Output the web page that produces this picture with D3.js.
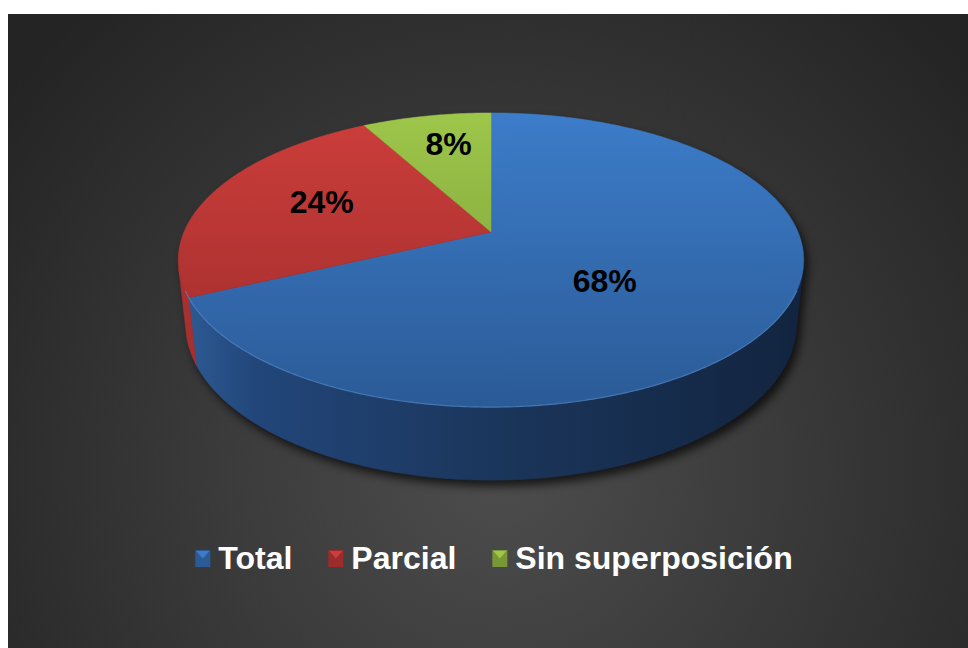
<!DOCTYPE html>
<html>
<head>
<meta charset="utf-8">
<script src="https://cdn.jsdelivr.net/npm/d3@7"></script>
<style>
  html, body { margin: 0; padding: 0; background: #fff; }
  svg { display: block; }
</style>
</head>
<body>
<div id="chart"></div>
<script>
// Data
const categories = ["Total", "Parcial", "Sin superposición"];
const values = [68, 24, 8];
const labels = ["68%", "24%", "8%"];

// Colours per slice
const topLight = ["#3c7cc9", "#cc3e3b", "#9dc64a"];
const topDark = ["#2b5b97", "#9c2b2b", "#789836"];
const wallStops = [
    ["#2e5c95", "#22467a", "#1b365c", "#12243f"],
    ["#a83030", "#9a2a2a", "#8a2424", "#7a2020"],
    ["#7f9e38", "#6e8a30", "#617a2a", "#546a24"]
];

// Label placement (fraction of radius along the mid angle, pixel nudge)
const labelR = [0.42, 0.6, 0.62];
const labelDy = [15, -5, -12];

const W = 968, H = 648;

const svg = d3.select("#chart")
    .append("svg")
    .attr("width", W)
    .attr("height", H);

const defs = svg.append("defs");

// Background radial gradient
const bg = defs.append("radialGradient")
    .attr("id", "bg")
    .attr("gradientUnits", "userSpaceOnUse")
    .attr("cx", 500).attr("cy", 470).attr("r", 620);
bg.append("stop").attr("offset", "0").attr("stop-color", "#4d4d4d");
bg.append("stop").attr("offset", "1").attr("stop-color", "#242424");

svg.append("rect")
    .attr("x", 8).attr("y", 14)
    .attr("width", W - 8).attr("height", H - 14)
    .attr("fill", "url(#bg)");

// Camera for the 3D pie
const alpha = 27.5 * Math.PI / 180;
const D = 4.657;      // camera distance in radius units
const F = 1429.8;     // focal length in px
const depthH = 0.2386; // pie thickness in radius units
const cx = 491, cy = 232;

function project(u, v, z) {
    const depth = D - v * Math.cos(alpha) - z * Math.sin(alpha);
    return [
        cx + F * u / depth,
        cy + F * (v * Math.sin(alpha) - z * Math.cos(alpha)) / depth
    ];
}

function rim(a, z, r = 1) {
    return project(r * Math.sin(a), -r * Math.cos(a), z);
}

function arcPoints(a0, a1, z) {
    const n = Math.max(2, Math.ceil(Math.abs(a1 - a0) / 0.01));
    const pts = [];
    for (let k = 0; k <= n; k++) pts.push(rim(a0 + (a1 - a0) * k / n, z));
    return pts;
}

const pie = d3.pie().sort(null).value(d => d);
const arcs = pie(values);

const line = d3.line().curve(d3.curveLinear);

// Visible part of the outer wall
const th0 = Math.acos(-1 / (D * Math.cos(alpha)));
const th1 = 2 * Math.PI - th0;

// Gradients
arcs.forEach((d, i) => {
    const g = defs.append("linearGradient")
        .attr("id", "top" + i)
        .attr("gradientUnits", "userSpaceOnUse")
        .attr("x1", 0).attr("y1", 113).attr("x2", 0).attr("y2", 407);
    g.append("stop").attr("offset", "0").attr("stop-color", topLight[i]);
    g.append("stop").attr("offset", "1").attr("stop-color", topDark[i]);

    const w = defs.append("linearGradient")
        .attr("id", "wall" + i)
        .attr("gradientUnits", "userSpaceOnUse")
        .attr("x1", 180).attr("y1", 0).attr("x2", 805).attr("y2", 0);
    [0, 0.12, 0.5, 1].forEach((o, k) => {
        w.append("stop").attr("offset", o).attr("stop-color", wallStops[i][k]);
    });
});

const blur = defs.append("filter")
    .attr("id", "shadow")
    .attr("x", "-20%").attr("y", "-20%")
    .attr("width", "140%").attr("height", "140%");
blur.append("feGaussianBlur").attr("stdDeviation", 5);

// Shadow
const shadowG = svg.append("g")
    .attr("transform", "translate(4,6)")
    .attr("filter", "url(#shadow)")
    .attr("opacity", 0.7);

function wallPath(a0, a1) {
    const top = arcPoints(a0, a1, 0);
    const bottom = arcPoints(a1, a0, -depthH);
    return line(top.concat(bottom)) + "Z";
}

function topPath(a0, a1) {
    return line([project(0, 0, 0)].concat(arcPoints(a0, a1, 0))) + "Z";
}

shadowG.append("path")
    .attr("d", wallPath(th0, th1))
    .attr("fill", "#000");
shadowG.append("path")
    .attr("d", topPath(0, 2 * Math.PI))
    .attr("fill", "#000");

// Walls
const wallG = svg.append("g");
arcs.forEach((d, i) => {
    const a0 = Math.max(d.startAngle, th0);
    const a1 = Math.min(d.endAngle, th1);
    if (a1 <= a0) return;
    wallG.append("path")
        .attr("d", wallPath(a0, a1))
        .attr("fill", "url(#wall" + i + ")")
        .attr("stroke", "url(#wall" + i + ")")
        .attr("stroke-width", 0.6);
});

// Top faces
const topG = svg.append("g");
arcs.forEach((d, i) => {
    topG.append("path")
        .attr("d", topPath(d.startAngle, d.endAngle))
        .attr("fill", "url(#top" + i + ")")
        .attr("stroke", "url(#top" + i + ")")
        .attr("stroke-width", 0.5);
});

// light edge along the front rim
topG.append("path")
    .attr("d", line(arcPoints(th0 + 0.15, th1 - 0.15, 0)))
    .attr("fill", "none")
    .attr("stroke", "#5a90d0")
    .attr("stroke-opacity", 0.6)
    .attr("stroke-width", 1.2);

// Data labels
const font = "'Liberation Sans', Arial, sans-serif";
arcs.forEach((d, i) => {
    const mid = (d.startAngle + d.endAngle) / 2;
    const p = rim(mid, 0, labelR[i]);
    svg.append("text")
        .attr("x", p[0])
        .attr("y", p[1] + labelDy[i])
        .attr("dy", "0.35em")
        .attr("text-anchor", "middle")
        .attr("font-family", font)
        .attr("font-weight", "bold")
        .attr("font-size", 32)
        .attr("fill", "#000")
        .text(labels[i]);
});

// Legend
const legend = svg.append("g");
const markerW = 15, markerH = 17, gapText = 8, gapItem = 36;
let lx = 0;
categories.forEach((c, i) => {
    const item = legend.append("g").attr("transform", `translate(${lx},0)`);
    item.append("rect")
        .attr("x", 0).attr("y", -19)
        .attr("width", markerW).attr("height", markerH)
        .attr("fill", topDark[i]);
    item.append("polygon")
        .attr("points", `1,-18 ${markerW - 1},-18 ${markerW / 2},${-19 + markerH / 2}`)
        .attr("fill", topLight[i]);
    const t = item.append("text")
        .attr("x", markerW + gapText)
        .attr("y", 0)
        .attr("font-family", font)
        .attr("font-weight", "bold")
        .attr("font-size", 32)
        .attr("fill", "#fff")
        .text(c);
    lx += markerW + gapText + t.node().getComputedTextLength() + gapItem;
});
const legendW = lx - gapItem;
legend.attr("transform", `translate(${494 - legendW / 2},569)`);
</script>
</body>
</html>
